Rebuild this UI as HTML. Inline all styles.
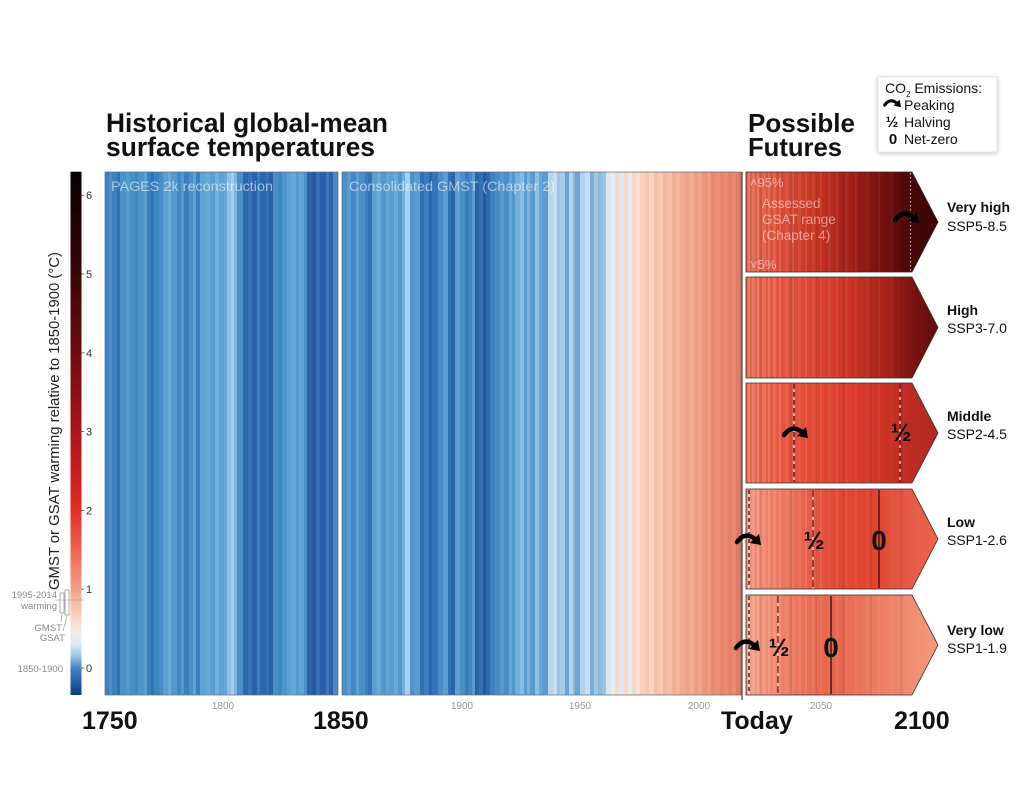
<!DOCTYPE html>
<html><head><meta charset="utf-8"><style>
html,body{margin:0;padding:0;background:#fff;}
svg{display:block;}
text{font-family:"Liberation Sans",Arial,sans-serif;}
</style></head><body>
<svg width="1024" height="801" viewBox="0 0 1024 801" xmlns="http://www.w3.org/2000/svg">
<defs>
<linearGradient id="cb" gradientUnits="userSpaceOnUse" x1="0" y1="171.7" x2="0" y2="695">
<stop offset="0" stop-color="#050000"/><stop offset="0.045" stop-color="#120203"/>
<stop offset="0.196" stop-color="#3a0507"/><stop offset="0.346" stop-color="#6e0c10"/>
<stop offset="0.497" stop-color="#a8161c"/><stop offset="0.572" stop-color="#c81d20"/>
<stop offset="0.647" stop-color="#e12e26"/><stop offset="0.723" stop-color="#ee6450"/>
<stop offset="0.798" stop-color="#f4a088"/><stop offset="0.843" stop-color="#f9cdb8"/>
<stop offset="0.881" stop-color="#f5ecea"/><stop offset="0.903" stop-color="#dbe9f4"/>
<stop offset="0.926" stop-color="#9cc6e4"/><stop offset="0.948" stop-color="#3f86c5"/>
<stop offset="1" stop-color="#0b3c85"/>
</linearGradient>
<linearGradient id="g1" gradientUnits="userSpaceOnUse" x1="746" y1="0" x2="938" y2="0">
<stop offset="0" stop-color="#e0644c"/><stop offset="0.18" stop-color="#d84a36"/><stop offset="0.385" stop-color="#c2301f"/><stop offset="0.594" stop-color="#961a16"/><stop offset="0.75" stop-color="#6a0e0e"/><stop offset="0.865" stop-color="#450808"/><stop offset="1" stop-color="#3a0606"/>
</linearGradient>
<linearGradient id="g2" gradientUnits="userSpaceOnUse" x1="746" y1="0" x2="938" y2="0">
<stop offset="0" stop-color="#e6684e"/><stop offset="0.28" stop-color="#de4a35"/><stop offset="0.54" stop-color="#cc3424"/><stop offset="0.75" stop-color="#a02018"/><stop offset="0.865" stop-color="#7a1412"/><stop offset="1" stop-color="#5e0e0e"/>
</linearGradient>
<linearGradient id="g3" gradientUnits="userSpaceOnUse" x1="746" y1="0" x2="938" y2="0">
<stop offset="0" stop-color="#ea6e52"/><stop offset="0.23" stop-color="#e45038"/><stop offset="0.54" stop-color="#de3c2c"/><stop offset="0.8" stop-color="#c32e24"/><stop offset="1" stop-color="#b02822"/>
</linearGradient>
<linearGradient id="g4" gradientUnits="userSpaceOnUse" x1="746" y1="0" x2="938" y2="0">
<stop offset="0" stop-color="#f0907a"/><stop offset="0.23" stop-color="#ea7058"/><stop offset="0.44" stop-color="#e24a36"/><stop offset="0.65" stop-color="#e0442e"/><stop offset="0.85" stop-color="#e65a44"/><stop offset="1" stop-color="#ea644c"/>
</linearGradient>
<linearGradient id="g5" gradientUnits="userSpaceOnUse" x1="746" y1="0" x2="938" y2="0">
<stop offset="0" stop-color="#f3a085"/><stop offset="0.23" stop-color="#ec7860"/><stop offset="0.44" stop-color="#e8644c"/><stop offset="0.65" stop-color="#ec7a60"/><stop offset="0.85" stop-color="#f08c70"/><stop offset="1" stop-color="#f29a80"/>
</linearGradient>
<clipPath id="pc">
<polygon points="746,172 912,172 938,222 912,272 746,272"/>
<polygon points="746,277 912,277 938,327.5 912,378 746,378"/>
<polygon points="746,383 912,383 938,433 912,483 746,483"/>
<polygon points="746,489 912,489 938,539 912,589 746,589"/>
<polygon points="746,595 912,595 938,645 912,695 746,695"/>
</clipPath>
<filter id="sh" x="-20%" y="-20%" width="140%" height="140%">
<feGaussianBlur in="SourceAlpha" stdDeviation="2.5"/>
<feOffset dx="0" dy="1" result="b"/>
<feComponentTransfer><feFuncA type="linear" slope="0.25"/></feComponentTransfer>
<feMerge><feMergeNode/><feMergeNode in="SourceGraphic"/></feMerge>
</filter>
</defs>

<!-- Titles -->
<text x="106" y="132" font-size="26.5" font-weight="bold" fill="#111" textLength="282" lengthAdjust="spacingAndGlyphs">Historical global-mean</text>
<text x="106" y="156" font-size="26.5" font-weight="bold" fill="#111" textLength="269" lengthAdjust="spacingAndGlyphs">surface temperatures</text>
<text x="748" y="132" font-size="26" font-weight="bold" fill="#111" textLength="107" lengthAdjust="spacingAndGlyphs">Possible</text>
<text x="748" y="156" font-size="26" font-weight="bold" fill="#111" textLength="94" lengthAdjust="spacingAndGlyphs">Futures</text>

<!-- Legend -->
<rect x="878" y="77" width="119" height="75" fill="#fff" stroke="#e4e4e4" stroke-width="1" filter="url(#sh)"/>
<text x="885" y="93" font-size="14" fill="#111">CO<tspan font-size="8" dy="4">2</tspan><tspan dy="-4"> Emissions:</tspan></text>
<g transform="translate(884,99) scale(0.68)">
<path d="M1,9 Q9,-2 19,6" fill="none" stroke="#000" stroke-width="4.5" stroke-linecap="round"/>
<polygon points="23,1 14,10 25,12" fill="#000"/>
</g>
<text x="904" y="110" font-size="14" fill="#111">Peaking</text>
<text x="892" y="127" font-size="15" font-weight="bold" fill="#111" text-anchor="middle">½</text>
<text x="904" y="127" font-size="14" fill="#111">Halving</text>
<text x="893" y="144" font-size="15" font-weight="bold" fill="#111" text-anchor="middle">0</text>
<text x="904" y="144" font-size="14" fill="#111">Net-zero</text>

<!-- Colorbar -->
<rect x="70.5" y="171.7" width="11" height="523.3" fill="url(#cb)"/>
<g stroke="#555" stroke-width="0.8">
<line x1="81.5" y1="668" x2="84.5" y2="668"/><line x1="81.5" y1="589.2" x2="84.5" y2="589.2"/>
<line x1="81.5" y1="510.4" x2="84.5" y2="510.4"/><line x1="81.5" y1="431.6" x2="84.5" y2="431.6"/>
<line x1="81.5" y1="352.8" x2="84.5" y2="352.8"/><line x1="81.5" y1="274" x2="84.5" y2="274"/>
<line x1="81.5" y1="195.2" x2="84.5" y2="195.2"/>
</g>
<g font-size="11" fill="#333">
<text x="86" y="672">0</text><text x="86" y="593">1</text><text x="86" y="514.5">2</text>
<text x="86" y="435.5">3</text><text x="86" y="357">4</text><text x="86" y="278">5</text><text x="86" y="199">6</text>
</g>
<text transform="translate(59,421) rotate(-90)" text-anchor="middle" font-size="15" fill="#222" textLength="338" lengthAdjust="spacingAndGlyphs">GMST or GSAT warming relative to 1850-1900 (°C)</text>
<g font-size="9.5" fill="#888" text-anchor="end">
<text x="57" y="598">1995-2014</text>
<text x="57" y="609">warming</text>
<text x="62" y="631">GMST</text>
<text x="65" y="641">GSAT</text>
<text x="63" y="672">1850-1900</text>
</g>
<line x1="55" y1="600" x2="84" y2="600" stroke="#999" stroke-width="0.6"/>
<rect x="60" y="593" width="4" height="20" fill="none" stroke="#888" stroke-width="0.7"/>
<rect x="65" y="590" width="4" height="25" fill="none" stroke="#888" stroke-width="0.7"/>
<line x1="62" y1="614" x2="61" y2="622" stroke="#999" stroke-width="0.6"/>
<line x1="67" y1="616" x2="63" y2="631" stroke="#999" stroke-width="0.6"/>

<!-- PAGES stripes -->
<g>
<rect x="105" y="172" width="4" height="523" fill="#3a84c2"/><rect x="109" y="172" width="3" height="523" fill="#4a8fc8"/>
<rect x="112" y="172" width="5" height="523" fill="#3b82c0"/><rect x="117" y="172" width="3" height="523" fill="#3070b4"/>
<rect x="120" y="172" width="6" height="523" fill="#4a92ca"/><rect x="126" y="172" width="4" height="523" fill="#5599ce"/>
<rect x="130" y="172" width="5" height="523" fill="#4690c8"/><rect x="135" y="172" width="3" height="523" fill="#3c86c4"/>
<rect x="138" y="172" width="6" height="523" fill="#4f95cb"/><rect x="144" y="172" width="3" height="523" fill="#5c9fd2"/>
<rect x="147" y="172" width="4" height="523" fill="#3a80c0"/><rect x="151" y="172" width="3" height="523" fill="#2f72b6"/>
<rect x="154" y="172" width="5" height="523" fill="#3d84c2"/><rect x="159" y="172" width="4" height="523" fill="#4a8cc6"/>
<rect x="163" y="172" width="5" height="523" fill="#5aa0d4"/><rect x="168" y="172" width="3" height="523" fill="#6aaad8"/>
<rect x="171" y="172" width="6" height="523" fill="#5498cd"/><rect x="177" y="172" width="4" height="523" fill="#3f88c5"/>
<rect x="181" y="172" width="3" height="523" fill="#5599ce"/><rect x="184" y="172" width="5" height="523" fill="#3b7fc0"/>
<rect x="189" y="172" width="4" height="523" fill="#4a90c8"/><rect x="193" y="172" width="3" height="523" fill="#5ea3d4"/>
<rect x="196" y="172" width="4" height="523" fill="#3a80c0"/><rect x="200" y="172" width="6" height="523" fill="#5ea5d6"/>
<rect x="206" y="172" width="4" height="523" fill="#6aaad8"/><rect x="210" y="172" width="5" height="523" fill="#5a9fd2"/>
<rect x="215" y="172" width="4" height="523" fill="#70b0dc"/><rect x="219" y="172" width="5" height="523" fill="#5ea3d4"/>
<rect x="224" y="172" width="3" height="523" fill="#68a8d7"/><rect x="227" y="172" width="4" height="523" fill="#8ec0e4"/>
<rect x="231" y="172" width="3" height="523" fill="#a6cdea"/><rect x="234" y="172" width="3" height="523" fill="#7cb6de"/>
<rect x="237" y="172" width="6" height="523" fill="#4a90c8"/><rect x="243" y="172" width="5" height="523" fill="#2c68ae"/>
<rect x="248" y="172" width="4" height="523" fill="#3572b6"/><rect x="252" y="172" width="5" height="523" fill="#2a62a8"/>
<rect x="257" y="172" width="3" height="523" fill="#3a7ebe"/><rect x="260" y="172" width="6" height="523" fill="#2c66ac"/>
<rect x="266" y="172" width="3" height="523" fill="#3570b4"/><rect x="269" y="172" width="4" height="523" fill="#2a60a6"/>
<rect x="273" y="172" width="5" height="523" fill="#4a8ec6"/><rect x="278" y="172" width="4" height="523" fill="#3e86c4"/>
<rect x="282" y="172" width="5" height="523" fill="#4f94ca"/><rect x="287" y="172" width="4" height="523" fill="#5aa0d4"/>
<rect x="291" y="172" width="5" height="523" fill="#66a8d8"/><rect x="296" y="172" width="3" height="523" fill="#509acf"/>
<rect x="299" y="172" width="5" height="523" fill="#5ea4d5"/><rect x="304" y="172" width="3" height="523" fill="#4a90c8"/>
<rect x="307" y="172" width="5" height="523" fill="#2d62aa"/><rect x="312" y="172" width="4" height="523" fill="#2858a0"/>
<rect x="316" y="172" width="4" height="523" fill="#3570b4"/><rect x="320" y="172" width="6" height="523" fill="#2a5ea8"/>
<rect x="326" y="172" width="3" height="523" fill="#3a78bc"/><rect x="329" y="172" width="4" height="523" fill="#2c60a8"/>
<rect x="333" y="172" width="5" height="523" fill="#4a88c5"/>
</g>
<rect x="105" y="172" width="233" height="523" fill="none" stroke="#5a6878" stroke-width="0.7"/>

<!-- GMST stripes -->
<g>
<rect x="342" y="172" width="5" height="523" fill="#4a90c8"/><rect x="347" y="172" width="4" height="523" fill="#5a9cd0"/>
<rect x="351" y="172" width="5" height="523" fill="#4488c6"/><rect x="356" y="172" width="3" height="523" fill="#5ea0d2"/>
<rect x="359" y="172" width="6" height="523" fill="#4a8ec8"/><rect x="365" y="172" width="3" height="523" fill="#3a7fc0"/>
<rect x="368" y="172" width="4" height="523" fill="#3274b8"/><rect x="372" y="172" width="5" height="523" fill="#5aa0d0"/>
<rect x="377" y="172" width="4" height="523" fill="#6aa8d6"/><rect x="381" y="172" width="5" height="523" fill="#5298cd"/>
<rect x="386" y="172" width="3" height="523" fill="#62a5d5"/><rect x="389" y="172" width="5" height="523" fill="#58a0d2"/>
<rect x="394" y="172" width="4" height="523" fill="#6aaad8"/><rect x="398" y="172" width="4" height="523" fill="#5298cd"/>
<rect x="402" y="172" width="3" height="523" fill="#72b0dc"/><rect x="405" y="172" width="5" height="523" fill="#a8d0ee"/>
<rect x="410" y="172" width="4" height="523" fill="#4e94c8"/><rect x="414" y="172" width="6" height="523" fill="#5a9cd0"/>
<rect x="420" y="172" width="4" height="523" fill="#2f6fb0"/><rect x="424" y="172" width="5" height="523" fill="#3a7cbe"/>
<rect x="429" y="172" width="3" height="523" fill="#2a66ac"/><rect x="432" y="172" width="6" height="523" fill="#3474b8"/>
<rect x="438" y="172" width="5" height="523" fill="#4a8cc5"/><rect x="443" y="172" width="5" height="523" fill="#5a9ccf"/>
<rect x="448" y="172" width="3" height="523" fill="#3070b5"/><rect x="451" y="172" width="4" height="523" fill="#2a64aa"/>
<rect x="455" y="172" width="5" height="523" fill="#5ea0d2"/><rect x="460" y="172" width="5" height="523" fill="#4a90c8"/>
<rect x="465" y="172" width="4" height="523" fill="#3a7cbf"/><rect x="469" y="172" width="3" height="523" fill="#4488c6"/>
<rect x="472" y="172" width="3" height="523" fill="#5a9ccf"/><rect x="475" y="172" width="4" height="523" fill="#2a62a8"/>
<rect x="479" y="172" width="4" height="523" fill="#3570b4"/><rect x="483" y="172" width="3" height="523" fill="#2258a0"/>
<rect x="486" y="172" width="4" height="523" fill="#2e68ae"/><rect x="490" y="172" width="5" height="523" fill="#3c80c0"/>
<rect x="495" y="172" width="5" height="523" fill="#4a8cc6"/><rect x="500" y="172" width="4" height="523" fill="#5a9ad0"/>
<rect x="504" y="172" width="5" height="523" fill="#4a8ec8"/><rect x="509" y="172" width="3" height="523" fill="#66a6d6"/>
<rect x="512" y="172" width="3" height="523" fill="#5296cc"/><rect x="515" y="172" width="5" height="523" fill="#70b0dc"/>
<rect x="520" y="172" width="4" height="523" fill="#86bce2"/><rect x="524" y="172" width="3" height="523" fill="#5a9ccf"/>
<rect x="527" y="172" width="3" height="523" fill="#78b4dc"/><rect x="530" y="172" width="5" height="523" fill="#5a9ccc"/>
<rect x="535" y="172" width="4" height="523" fill="#8cc0e0"/><rect x="539" y="172" width="3" height="523" fill="#6aa6d4"/>
<rect x="542" y="172" width="6" height="523" fill="#5a9ccc"/><rect x="548" y="172" width="5" height="523" fill="#b8d5ea"/>
<rect x="553" y="172" width="4" height="523" fill="#c8def0"/><rect x="557" y="172" width="3" height="523" fill="#9cc6e6"/>
<rect x="560" y="172" width="5" height="523" fill="#a8cce6"/><rect x="565" y="172" width="4" height="523" fill="#6aa5d5"/>
<rect x="569" y="172" width="4" height="523" fill="#b4d4ec"/><rect x="573" y="172" width="2" height="523" fill="#8ab9df"/>
<rect x="575" y="172" width="5" height="523" fill="#6aa5d5"/><rect x="580" y="172" width="5" height="523" fill="#b0d2ea"/>
<rect x="585" y="172" width="5" height="523" fill="#c6def0"/><rect x="590" y="172" width="4" height="523" fill="#7ab0d8"/>
<rect x="594" y="172" width="4" height="523" fill="#a0c8e4"/><rect x="598" y="172" width="4" height="523" fill="#8abce0"/>
<rect x="602" y="172" width="4" height="523" fill="#9ac4e0"/><rect x="606" y="172" width="5" height="523" fill="#dce8f0"/>
<rect x="611" y="172" width="4" height="523" fill="#e8ecf0"/><rect x="615" y="172" width="4" height="523" fill="#f2dcd2"/>
<rect x="619" y="172" width="5" height="523" fill="#dfe8ef"/><rect x="624" y="172" width="4" height="523" fill="#f6d8ca"/>
<rect x="628" y="172" width="4" height="523" fill="#e6ebef"/><rect x="632" y="172" width="4" height="523" fill="#f5d6c6"/>
<rect x="636" y="172" width="4" height="523" fill="#f8e0d4"/><rect x="640" y="172" width="5" height="523" fill="#f8d0bc"/>
<rect x="645" y="172" width="4" height="523" fill="#f6c6b0"/><rect x="649" y="172" width="5" height="523" fill="#f9d4c2"/>
<rect x="654" y="172" width="4" height="523" fill="#f4c0aa"/><rect x="658" y="172" width="5" height="523" fill="#f7cab6"/>
<rect x="663" y="172" width="4" height="523" fill="#f2b8a0"/><rect x="667" y="172" width="5" height="523" fill="#f4bea8"/>
<rect x="672" y="172" width="4" height="523" fill="#f0ae94"/><rect x="676" y="172" width="4" height="523" fill="#f3b69e"/>
<rect x="680" y="172" width="5" height="523" fill="#f0a88e"/><rect x="685" y="172" width="4" height="523" fill="#eea288"/>
<rect x="689" y="172" width="5" height="523" fill="#f2ac92"/><rect x="694" y="172" width="4" height="523" fill="#ee9c80"/>
<rect x="698" y="172" width="4" height="523" fill="#f0a48a"/><rect x="702" y="172" width="5" height="523" fill="#ec9478"/>
<rect x="707" y="172" width="4" height="523" fill="#ee9c82"/><rect x="711" y="172" width="4" height="523" fill="#e88870"/>
<rect x="715" y="172" width="5" height="523" fill="#eb9078"/><rect x="720" y="172" width="4" height="523" fill="#e8846a"/>
<rect x="724" y="172" width="4" height="523" fill="#ea8c72"/><rect x="728" y="172" width="4" height="523" fill="#e6806a"/>
<rect x="732" y="172" width="4" height="523" fill="#e88a70"/><rect x="736" y="172" width="5" height="523" fill="#e47a62"/>
</g>
<rect x="342" y="172" width="399" height="523" fill="none" stroke="#5a6878" stroke-width="0.7"/>
<line x1="742" y1="172" x2="742" y2="700" stroke="#6b4038" stroke-width="1.3"/>

<text x="111" y="191" font-size="14" fill="#fff" fill-opacity="0.55" textLength="162" lengthAdjust="spacingAndGlyphs">PAGES 2k reconstruction</text>
<text x="349" y="191" font-size="14" fill="#fff" fill-opacity="0.55" textLength="206" lengthAdjust="spacingAndGlyphs">Consolidated GMST (Chapter 2)</text>

<!-- Future panels -->
<polygon points="746,172 912,172 938,222 912,272 746,272" fill="url(#g1)"/>
<polygon points="746,277 912,277 938,327.5 912,378 746,378" fill="url(#g2)"/>
<polygon points="746,383 912,383 938,433 912,483 746,483" fill="url(#g3)"/>
<polygon points="746,489 912,489 938,539 912,589 746,589" fill="url(#g4)"/>
<polygon points="746,595 912,595 938,645 912,695 746,695" fill="url(#g5)"/>
<g clip-path="url(#pc)">
<g fill="#fff">
<rect x="748" y="172" width="2" height="523" opacity=".16"/><rect x="752" y="172" width="3" height="523" opacity=".13"/>
<rect x="757" y="172" width="2" height="523" opacity=".18"/><rect x="762" y="172" width="4" height="523" opacity=".1"/>
<rect x="768" y="172" width="2" height="523" opacity=".15"/><rect x="773" y="172" width="3" height="523" opacity=".12"/>
<rect x="779" y="172" width="2" height="523" opacity=".13"/><rect x="785" y="172" width="4" height="523" opacity=".08"/>
<rect x="792" y="172" width="2" height="523" opacity=".12"/><rect x="798" y="172" width="3" height="523" opacity=".08"/>
<rect x="805" y="172" width="2" height="523" opacity=".1"/><rect x="812" y="172" width="4" height="523" opacity=".06"/>
<rect x="820" y="172" width="2" height="523" opacity=".08"/><rect x="828" y="172" width="3" height="523" opacity=".06"/>
<rect x="836" y="172" width="2" height="523" opacity=".07"/><rect x="845" y="172" width="3" height="523" opacity=".05"/>
<rect x="855" y="172" width="2" height="523" opacity=".06"/><rect x="866" y="172" width="3" height="523" opacity=".04"/>
<rect x="878" y="172" width="2" height="523" opacity=".05"/><rect x="890" y="172" width="3" height="523" opacity=".03"/>
</g>
<g fill="#000">
<rect x="760" y="172" width="2" height="523" opacity=".06"/><rect x="790" y="172" width="3" height="523" opacity=".06"/>
<rect x="815" y="172" width="2" height="523" opacity=".07"/><rect x="842" y="172" width="3" height="523" opacity=".06"/>
<rect x="870" y="172" width="2" height="523" opacity=".06"/><rect x="900" y="172" width="3" height="523" opacity=".05"/>
</g>
</g>
<g fill="none" stroke="#3a2a2a" stroke-width="0.8">
<polygon points="746,172 912,172 938,222 912,272 746,272"/>
<polygon points="746,277 912,277 938,327.5 912,378 746,378"/>
<polygon points="746,383 912,383 938,433 912,483 746,483"/>
<polygon points="746,489 912,489 938,539 912,589 746,589"/>
<polygon points="746,595 912,595 938,645 912,695 746,695"/>
</g>

<!-- Panel 1 annotations -->
<g fill="#fff" fill-opacity="0.5" font-size="13">
<text x="750" y="187">˄95%</text>
<text x="762" y="208" font-size="13.5">Assessed</text>
<text x="762" y="224" font-size="13.5">GSAT range</text>
<text x="762" y="240" font-size="13.5">(Chapter 4)</text>
<text x="750" y="269">˅5%</text>
</g>
<line x1="910.5" y1="173" x2="910.5" y2="271" stroke="#fff" stroke-opacity="0.7" stroke-width="1.2" stroke-dasharray="1.5,2.5"/>

<!-- Panel lines -->
<g>
<line x1="794" y1="384" x2="794" y2="482" stroke="#fff" stroke-width="1.2" stroke-opacity="0.8"/>
<line x1="794" y1="384" x2="794" y2="482" stroke="#5a0d0d" stroke-width="1.3" stroke-dasharray="5,3"/>
<line x1="900" y1="384" x2="900" y2="482" stroke="#fff" stroke-width="1.2" stroke-opacity="0.8"/>
<line x1="900" y1="384" x2="900" y2="482" stroke="#5a0d0d" stroke-width="1.3" stroke-dasharray="5,3"/>
<line x1="749" y1="490" x2="749" y2="588" stroke="#fff" stroke-width="1.2" stroke-opacity="0.8"/>
<line x1="749" y1="490" x2="749" y2="588" stroke="#3a1a1a" stroke-width="1.3" stroke-dasharray="4,3"/>
<line x1="813" y1="490" x2="813" y2="588" stroke="#fff" stroke-width="1.2" stroke-opacity="0.8"/>
<line x1="813" y1="490" x2="813" y2="588" stroke="#7a1a14" stroke-width="1.3" stroke-dasharray="7,3"/>
<line x1="879" y1="490" x2="879" y2="588" stroke="#4a1410" stroke-width="1.5"/>
<line x1="749" y1="596" x2="749" y2="694" stroke="#fff" stroke-width="1.2" stroke-opacity="0.8"/>
<line x1="749" y1="596" x2="749" y2="694" stroke="#3a1a1a" stroke-width="1.3" stroke-dasharray="4,3"/>
<line x1="778" y1="596" x2="778" y2="694" stroke="#fff" stroke-width="1.2" stroke-opacity="0.8"/>
<line x1="778" y1="596" x2="778" y2="694" stroke="#7a1a14" stroke-width="1.3" stroke-dasharray="7,3"/>
<line x1="831" y1="596" x2="831" y2="694" stroke="#4a1410" stroke-width="1.5"/>
</g>

<!-- Halving / Net-zero symbols -->
<g font-weight="bold" fill="#111" text-anchor="middle">
<text x="901" y="441" font-size="25">½</text>
<text x="814" y="549" font-size="25">½</text>
<text x="879" y="550" font-size="28">0</text>
<text x="779" y="656" font-size="25">½</text>
<text x="831" y="657" font-size="28">0</text>
</g>

<!-- Peaking arrows -->
<g transform="translate(894,211)">
<path d="M1,9 Q9,-2 19,6" fill="none" stroke="#000" stroke-width="4.5" stroke-linecap="round"/>
<polygon points="23,1 14,10 25,12" fill="#000"/>
</g>
<g transform="translate(783,426)">
<path d="M1,9 Q9,-2 19,6" fill="none" stroke="#000" stroke-width="4.5" stroke-linecap="round"/>
<polygon points="23,1 14,10 25,12" fill="#000"/>
</g>
<g transform="translate(736,533)">
<path d="M1,9 Q9,-2 19,6" fill="none" stroke="#000" stroke-width="4.5" stroke-linecap="round"/>
<polygon points="23,1 14,10 25,12" fill="#000"/>
</g>
<g transform="translate(735,639)">
<path d="M1,9 Q9,-2 19,6" fill="none" stroke="#000" stroke-width="4.5" stroke-linecap="round"/>
<polygon points="23,1 14,10 25,12" fill="#000"/>
</g>

<!-- Scenario labels -->
<g font-size="14" fill="#111">
<text x="947" y="212" font-weight="bold">Very high</text><text x="947" y="231">SSP5-8.5</text>
<text x="947" y="315" font-weight="bold">High</text><text x="947" y="333">SSP3-7.0</text>
<text x="947" y="421" font-weight="bold">Middle</text><text x="947" y="439">SSP2-4.5</text>
<text x="947" y="527" font-weight="bold">Low</text><text x="947" y="545">SSP1-2.6</text>
<text x="947" y="635" font-weight="bold">Very low</text><text x="947" y="653">SSP1-1.9</text>
</g>

<!-- Axis labels -->
<g font-size="10" fill="#999" text-anchor="middle">
<text x="223" y="709">1800</text><text x="462" y="709">1900</text><text x="580" y="709">1950</text>
<text x="699" y="709">2000</text><text x="821" y="709">2050</text>
</g>
<g font-size="25" font-weight="bold" fill="#111">
<text x="82" y="729">1750</text>
<text x="313" y="729">1850</text>
<text x="721" y="729">Today</text>
<text x="894" y="729">2100</text>
</g>
</svg>
</body></html>
